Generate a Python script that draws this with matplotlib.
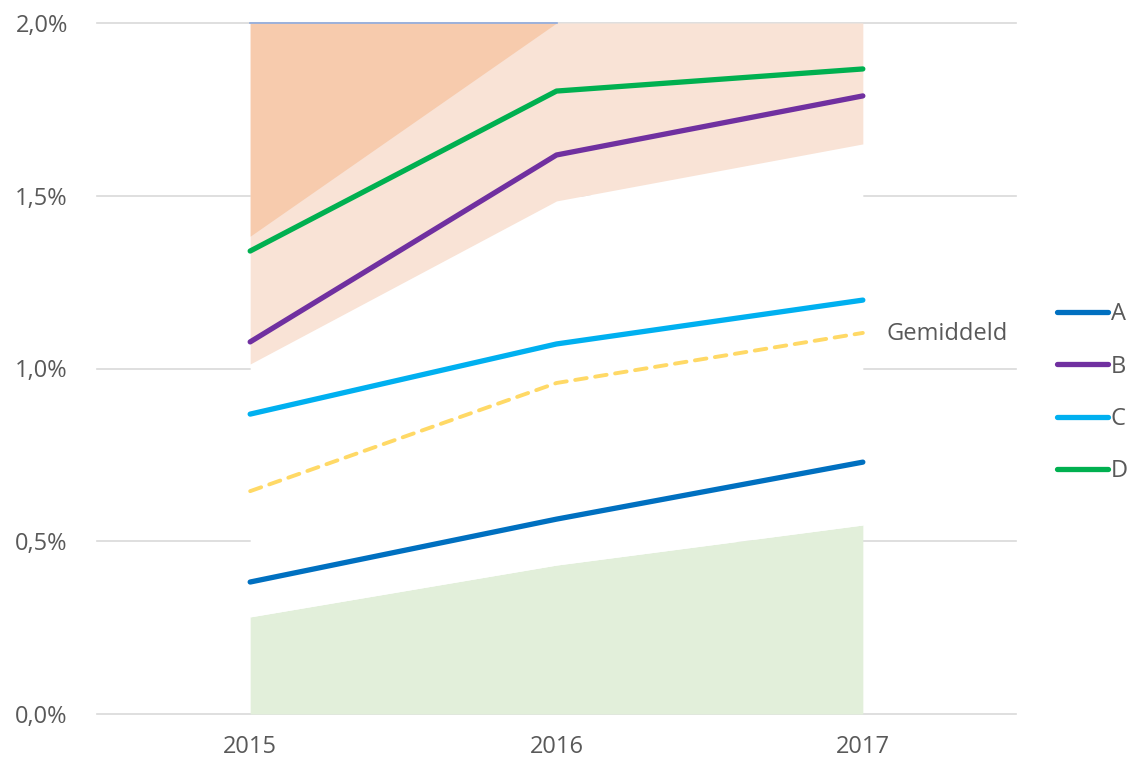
import matplotlib
matplotlib.use("Agg")
import matplotlib.pyplot as plt
from matplotlib.ticker import FuncFormatter

years = ["2015", "2016", "2017"]
serie_a = [0.382, 0.564, 0.729]
serie_b = [1.077, 1.618, 1.789]
serie_c = [0.868, 1.071, 1.198]
serie_d = [1.340, 1.803, 1.867]
gemiddeld = [0.645, 0.958, 1.103]
green_band = [0.281, 0.431, 0.547]
light_band_low = [1.013, 1.485, 1.650]
dark_band_low = [1.383, 2.0, 2.0]
band_top = [2.0, 2.0, 2.0]

plt.rcParams['font.family'] = ['Open Sans', 'DejaVu Sans']
TXT = '#595959'
FS = 17

fig = plt.figure(figsize=(11.38, 7.69), dpi=100)
ax = fig.add_axes([97/1138, 55/769, (1016-97)/1138, (714-23)/769])
x = list(range(len(years)))

for v in [0, 0.5, 1.0, 1.5, 2.0]:
    ax.axhline(v, color='#d9d9d9', lw=1.2, zorder=0, clip_on=False)

ax.fill_between(x, 0, green_band, color='#E2EFDA', lw=0, zorder=1)
ax.fill_between(x, green_band, light_band_low, color='white', lw=0, zorder=1)
ax.fill_between(x, light_band_low, band_top, color='#F9E3D6', lw=0, zorder=1)
ax.fill_between(x, dark_band_low, band_top, color='#F7CBAD', lw=0, zorder=2)
ax.plot(x[:2], band_top[:2], color='#8FAADC', lw=1.2, zorder=3, clip_on=False)

ax.plot(x, gemiddeld, color='#FFD966', lw=2.8, ls=(0, (3, 2.2)), zorder=4,
        dash_capstyle='round')
colors = ['#0070C0', '#7030A0', '#00B0F0', '#00B050']
names = ['A', 'B', 'C', 'D']
for s, c, n in zip([serie_a, serie_b, serie_c, serie_d], colors, names):
    ax.plot(x, s, color=c, lw=3.8, solid_capstyle='round', zorder=5, label=n)

ax.annotate('Gemiddeld', xy=(x[-1], gemiddeld[-1]), xytext=(17, -1),
            textcoords='offset points', color=TXT, fontsize=FS, va='center', ha='left')

ax.set_xlim(-0.5, 2.5)
ax.set_ylim(0, 2.0)
ax.set_xticks(x)
ax.set_xticklabels(years)
ax.set_yticks([0, 0.5, 1.0, 1.5, 2.0])
ax.yaxis.set_major_formatter(FuncFormatter(lambda v, p: f"{v:.1f}%".replace('.', ',')))
ax.tick_params(axis='both', length=0, labelsize=FS, labelcolor=TXT)
ax.tick_params(axis='x', pad=15)
ax.tick_params(axis='y', pad=21)
for sp in ax.spines.values():
    sp.set_visible(False)

leg = ax.legend(loc='center left', bbox_to_anchor=(1.021, 0.465), frameon=False,
                fontsize=FS, handlelength=2.2, handletextpad=0.1, labelspacing=1.2,
                labelcolor=TXT)

fig.savefig('out.png', dpi=100)
